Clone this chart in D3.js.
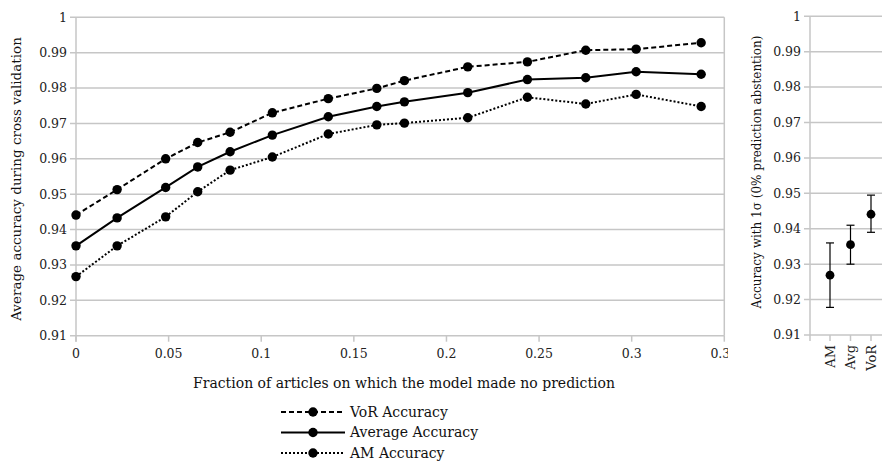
<!DOCTYPE html>
<html>
<head>
<meta charset="utf-8">
<script src="https://cdn.jsdelivr.net/npm/d3@7"></script>
<style>
  body { margin: 0; background: #fff; }
</style>
</head>
<body>
<div id="chart"></div>
<script>
// Data
const fractions = [0, 0.0222, 0.0484, 0.0657, 0.0832, 0.106, 0.1362, 0.1624, 0.1773, 0.2115, 0.2437, 0.2752, 0.3024, 0.3375];
const vorAcc = [0.9441, 0.9513, 0.9600, 0.9646, 0.9675, 0.9730, 0.9770, 0.9799, 0.9821, 0.9860, 0.9874, 0.9907, 0.9910, 0.9928];
const avgAcc = [0.9354, 0.9433, 0.9519, 0.9577, 0.9620, 0.9667, 0.9719, 0.9748, 0.9761, 0.9787, 0.9824, 0.9829, 0.9846, 0.9839];
const amAcc  = [0.9267, 0.9354, 0.9436, 0.9507, 0.9568, 0.9605, 0.9670, 0.9696, 0.9701, 0.9716, 0.9774, 0.9755, 0.9782, 0.9748];

const xTicks = [0, 0.05, 0.1, 0.15, 0.2, 0.25, 0.3, 0.35];
const yTicks = [0.91, 0.92, 0.93, 0.94, 0.95, 0.96, 0.97, 0.98, 0.99, 1];

// Right panel: accuracy at 0% abstention with 1 sigma
const models = ["AM", "Avg", "VoR"];
const modelMean = [0.9269, 0.9355, 0.9441];
const modelLow  = [0.9178, 0.9300, 0.9390];
const modelHigh = [0.9360, 0.9410, 0.9495];

const series = [
  { name: "VoR Accuracy", values: vorAcc, dash: "5,3" },
  { name: "Average Accuracy", values: avgAcc, dash: null },
  { name: "AM Accuracy", values: amAcc, dash: "2,2" }
];

const W = 882, H = 462;
const gridColor = "#c6c6c6";
const fontFamily = "'DejaVu Serif', serif";

const svg = d3.select("#chart").append("svg")
  .attr("width", W)
  .attr("height", H)
  .attr("font-family", fontFamily);

// ---------- left panel ----------
const xScale = d3.scaleLinear().domain([0, 0.35]).range([76, 724.3]);
const yScale = d3.scaleLinear().domain([0.91, 1]).range([335.7, 17.3]);

// gridlines
svg.append("g")
  .selectAll("line")
  .data(yTicks)
  .enter()
  .append("line")
  .attr("x1", xScale(0) - 6)
  .attr("x2", xScale(0.35))
  .attr("y1", d => yScale(d))
  .attr("y2", d => yScale(d))
  .attr("stroke", gridColor)
  .attr("stroke-width", 1.5);

// y-axis line and right border
svg.append("line")
  .attr("x1", xScale(0)).attr("x2", xScale(0))
  .attr("y1", yScale(1)).attr("y2", yScale(0.91) + 6)
  .attr("stroke", gridColor).attr("stroke-width", 1.5);
svg.append("line")
  .attr("x1", xScale(0.35)).attr("x2", xScale(0.35))
  .attr("y1", yScale(1)).attr("y2", yScale(0.91))
  .attr("stroke", gridColor).attr("stroke-width", 1.5);

// x ticks
svg.append("g")
  .selectAll("line")
  .data(xTicks)
  .enter()
  .append("line")
  .attr("x1", d => xScale(d)).attr("x2", d => xScale(d))
  .attr("y1", yScale(0.91)).attr("y2", yScale(0.91) + 6)
  .attr("stroke", gridColor).attr("stroke-width", 1.5);

// y tick labels
svg.append("g")
  .selectAll("text")
  .data(yTicks)
  .enter()
  .append("text")
  .attr("x", xScale(0) - 9)
  .attr("y", d => yScale(d))
  .attr("dy", "0.35em")
  .attr("text-anchor", "end")
  .attr("fill", "#222")
  .style("font-size", "12.5px")
  .text(d => d === 1 ? "1" : d3.format(".2f")(d));

// x tick labels (last one clipped like the original)
svg.append("clipPath").attr("id", "xclip")
  .append("rect").attr("x", 0).attr("y", 330).attr("width", 728).attr("height", 40);

svg.append("g")
  .attr("clip-path", "url(#xclip)")
  .selectAll("text")
  .data(xTicks)
  .enter()
  .append("text")
  .attr("x", d => xScale(d))
  .attr("y", 358)
  .attr("text-anchor", "middle")
  .attr("fill", "#222")
  .style("font-size", "12.5px")
  .text(d => d === 0 ? "0" : String(+d.toFixed(2)));

// axis titles
svg.append("text")
  .attr("transform", "translate(21,179) rotate(-90)")
  .attr("text-anchor", "middle")
  .attr("fill", "#111")
  .style("font-size", "13.5px")
  .text("Average accuracy during cross validation");

svg.append("text")
  .attr("x", 404)
  .attr("y", 388)
  .attr("text-anchor", "middle")
  .attr("fill", "#111")
  .style("font-size", "14px")
  .text("Fraction of articles on which the model made no prediction");

// lines and markers
const line = d3.line()
  .x((d, i) => xScale(fractions[i]))
  .y(d => yScale(d));

series.forEach(s => {
  svg.append("path")
    .datum(s.values)
    .attr("d", line)
    .attr("fill", "none")
    .attr("stroke", "#000")
    .attr("stroke-width", 2)
    .attr("stroke-dasharray", s.dash);

  svg.append("g")
    .selectAll("circle")
    .data(s.values)
    .enter()
    .append("circle")
    .attr("cx", (d, i) => xScale(fractions[i]))
    .attr("cy", d => yScale(d))
    .attr("r", 4.7)
    .attr("fill", "#000");
});

// legend
const legend = svg.append("g").attr("transform", "translate(281,412)");
series.forEach((s, i) => {
  const row = legend.append("g").attr("transform", `translate(0,${i * 20.5})`);
  row.append("line")
    .attr("x1", 0).attr("x2", 64)
    .attr("y1", 0).attr("y2", 0)
    .attr("stroke", "#000")
    .attr("stroke-width", 2)
    .attr("stroke-dasharray", s.dash);
  row.append("circle")
    .attr("cx", 32).attr("cy", 0).attr("r", 4.7).attr("fill", "#000");
  row.append("text")
    .attr("x", 69).attr("y", 0).attr("dy", "0.35em")
    .attr("fill", "#111")
    .style("font-size", "14px")
    .text(s.name);
});

// ---------- right panel ----------
const yRight = d3.scaleLinear().domain([0.91, 1]).range([335, 16.3]);
const xRight = d3.scalePoint().domain(models).range([830, 871]);
const rLeft = 810;

svg.append("g")
  .selectAll("line")
  .data(yTicks)
  .enter()
  .append("line")
  .attr("x1", rLeft - 6)
  .attr("x2", W)
  .attr("y1", d => yRight(d))
  .attr("y2", d => yRight(d))
  .attr("stroke", gridColor)
  .attr("stroke-width", 1.5);

svg.append("line")
  .attr("x1", rLeft).attr("x2", rLeft)
  .attr("y1", yRight(1)).attr("y2", yRight(0.91) + 6)
  .attr("stroke", gridColor).attr("stroke-width", 1.5);

svg.append("g")
  .selectAll("line")
  .data(models)
  .enter()
  .append("line")
  .attr("x1", d => xRight(d)).attr("x2", d => xRight(d))
  .attr("y1", yRight(0.91)).attr("y2", yRight(0.91) + 6)
  .attr("stroke", gridColor).attr("stroke-width", 1.5);

svg.append("g")
  .selectAll("text")
  .data(yTicks)
  .enter()
  .append("text")
  .attr("x", rLeft - 9)
  .attr("y", d => yRight(d))
  .attr("dy", "0.35em")
  .attr("text-anchor", "end")
  .attr("fill", "#222")
  .style("font-size", "12.5px")
  .text(d => d === 1 ? "1" : d3.format(".2f")(d));

svg.append("g")
  .selectAll("text")
  .data(models)
  .enter()
  .append("text")
  .attr("transform", d => `translate(${xRight(d)},${yRight(0.91) + 10}) rotate(-90)`)
  .attr("dy", "0.35em")
  .attr("text-anchor", "end")
  .attr("fill", "#222")
  .style("font-size", "13px")
  .text(d => d);

svg.append("text")
  .attr("transform", "translate(761,172) rotate(-90)")
  .attr("text-anchor", "middle")
  .attr("fill", "#111")
  .style("font-size", "12px")
  .text("Accuracy with 1σ (0% prediction abstention)");

// error bars
models.forEach((m, i) => {
  const cx = xRight(m);
  const g = svg.append("g");
  g.append("line")
    .attr("x1", cx).attr("x2", cx)
    .attr("y1", yRight(modelLow[i])).attr("y2", yRight(modelHigh[i]))
    .attr("stroke", "#000").attr("stroke-width", 1.2);
  [modelLow[i], modelHigh[i]].forEach(v => {
    g.append("line")
      .attr("x1", cx - 4).attr("x2", cx + 4)
      .attr("y1", yRight(v)).attr("y2", yRight(v))
      .attr("stroke", "#000").attr("stroke-width", 1.2);
  });
  g.append("circle")
    .attr("cx", cx).attr("cy", yRight(modelMean[i]))
    .attr("r", 4.4).attr("fill", "#000");
});
</script>
</body>
</html>
